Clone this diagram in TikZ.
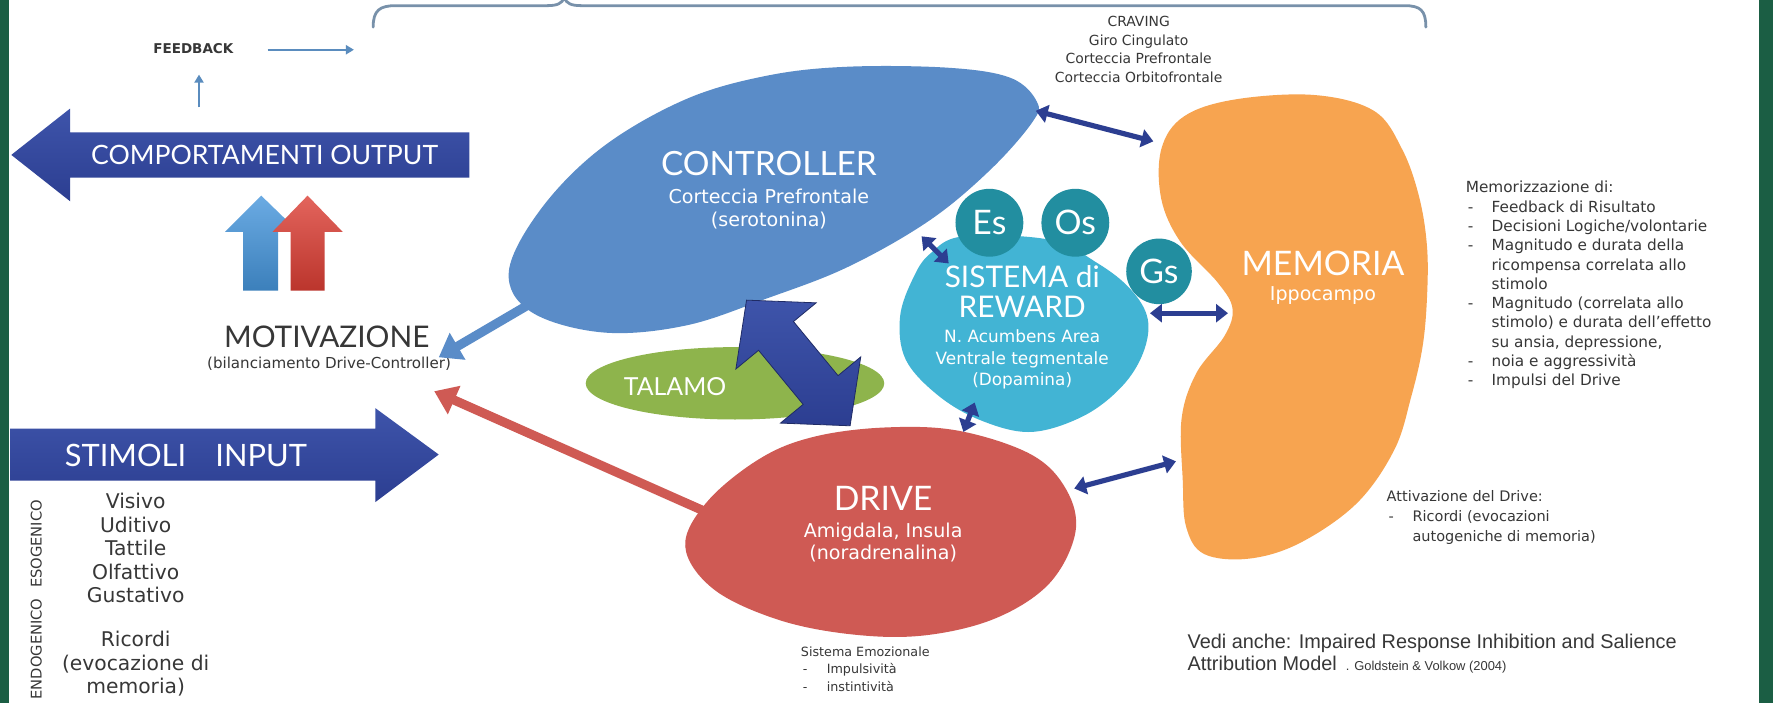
\documentclass[tikz,border=0pt]{standalone}
\usepackage{fontspec}
\setmainfont{Lato}
\newfontfamily\verd{DejaVu Sans}
\newfontfamily\arial{Liberation Sans}
\usetikzlibrary{arrows.meta,calc}
\definecolor{bandgreen}{RGB}{27,94,68}
\definecolor{arrblue}{RGB}{44,62,145}
\definecolor{arrblueL}{RGB}{62,84,170}
\definecolor{ctrlblue}{RGB}{90,140,200}
\definecolor{rewcyan}{RGB}{66,180,212}
\definecolor{rewteal}{RGB}{34,142,160}
\definecolor{talgreen}{RGB}{142,180,76}
\definecolor{drvred}{RGB}{207,90,84}
\definecolor{memorange}{RGB}{247,164,80}
\definecolor{bracegray}{RGB}{120,145,170}
\definecolor{fbblue}{RGB}{90,140,190}
\definecolor{txtgray}{RGB}{55,55,55}
\definecolor{upblue}{RGB}{70,150,220}
\definecolor{upred}{RGB}{220,62,52}
\def\fs#1#2{\fontsize{#1}{#2}\selectfont}
\def\li#1{\makebox[13pt][l]{\hspace{1pt}-}#1}
\def\ind#1{\hspace*{13pt}#1}
\tikzset{
  note/.style={text=txtgray, align=left, inner sep=0pt},
  wlbl/.style={text=white, align=center, inner sep=0pt},
  dbl/.style={draw=arrblue, line width=2.6pt,
    {Triangle[length=6pt,width=9pt]}-{Triangle[length=6pt,width=9pt]}},
  fat/.style={line width=4.6pt, -{Triangle[length=11pt,width=15pt]}},
  thin/.style={draw=fbblue, line width=1.1pt, -{Triangle[length=4pt,width=4.5pt]}},
}

\begin{document}
\begin{tikzpicture}[x=0.2mm,y=-0.2mm]
		%%%%% FRAME %%%%%
		\useasboundingbox (0,0) rectangle (1568,622);
		\fill[white] (0,0) rectangle (1568,622);
		\fill[bandgreen] (0,0) rectangle (8,622);
		\fill[bandgreen] (1556,0) rectangle (1568,622);
		
		% brace on top
		\draw[bracegray, line width=1.4pt, line cap=round]
			(330,24) .. controls (330,9) and (336,5) .. (350,5) -- (484,5)
			.. controls (493,5) and (497,3) .. (499,-2)
			.. controls (501,3) and (505,5) .. (514,5) -- (1242,5)
			.. controls (1256,5) and (1261,9) .. (1261,24);
		
		%%%%% FEEDBACK / OUTPUT %%%%%
		\node[text=txtgray, font=\verd\bfseries\fs{6.8}{8}, inner sep=0pt] (fb) at (171,43) {FEEDBACK};
		\coordinate (fbup) at (176,95);
		\coordinate (fbtop) at (176,66);
		\coordinate (fbend) at (313,44);
		\draw[thin] (fbup) -- (fbtop);
		\draw[thin] ($(fb.east)+(30,1)$) -- (fbend);
		
		\shade[top color=arrblueL, bottom color=arrblue]
			(10,137) -- (62,96) -- (62,117) -- (415,117) -- (415,157) -- (62,157) -- (62,178) -- cycle;
		\node[wlbl, font=\fs{13.4}{15}] (outlbl) at (234,137) {COMPORTAMENTI OUTPUT};
		
		% motivation arrows
		\shade[top color=upblue!80!white, bottom color=upblue!85!black]
			(231,173) -- (264,205) -- (246,205) -- (246,257) -- (215,257) -- (215,205) -- (199,205) -- cycle;
		\shade[top color=upred!80!white, bottom color=upred!85!black]
			(272,173) -- (303,205) -- (287,205) -- (287,257) -- (257,257) -- (257,205) -- (241,205) -- cycle;
		
		\node[text=txtgray, font=\fs{15}{17}, inner sep=0pt] (motiv) at (289,298) {MOTIVAZIONE};
		\node[text=txtgray, font=\verd\fs{7.6}{9}, inner sep=0pt] (motivsub) at (291,322) {(bilanciamento Drive-Controller)};
		
		%%%%% INPUT %%%%%
		\shade[top color=arrblueL, bottom color=arrblue]
			(9,379) -- (332,379) -- (332,361) -- (388,402) -- (332,444) -- (332,425) -- (9,425) -- cycle;
		\node[wlbl, font=\fs{15.5}{17}] (stim) at (111,403) {STIMOLI};
		\node[wlbl, font=\fs{15.5}{17}] (inp) at (231,403) {INPUT};
		
		\node[text=txtgray, font=\verd\fs{10.2}{11.8}, align=center, inner sep=0pt, anchor=north] (eso)
			at (120,436) {Visivo\\Uditivo\\Tattile\\Olfattivo\\Gustativo};
		\node[text=txtgray, font=\verd\fs{10.2}{11.8}, align=center, inner sep=0pt, anchor=north] (endo)
			at (120,558) {Ricordi\\(evocazione di\\memoria)};
		\node[text=txtgray, font=\verd\fs{7.4}{8}, rotate=90, inner sep=0pt] (esolbl) at (32,481) {ESOGENICO};
		\node[text=txtgray, font=\verd\fs{7.4}{8}, rotate=90, inner sep=0pt] (endolbl) at (32,574) {ENDOGENICO};
		
		%%%%% BLOBS %%%%%
		% controller
		\fill[ctrlblue] plot[smooth cycle, tension=0.6] coordinates {
			(450,240) (479,184) (533,130) (606,88) (678,67) (750,59) (840,60) (894,69)
			(917,90) (913,108) (876,150) (822,195) (750,236) (678,264) (606,288)
			(533,294) (470,276)};
		\node[wlbl, font=\fs{16.8}{19}] (ctrl) at (680,145) {CONTROLLER};
		\node[wlbl, font=\verd\fs{9.6}{11.4}] (ctrlsub) at (680,185) {Corteccia Prefrontale\\(serotonina)};
		
		% talamo
		\fill[talgreen] (650,339) ellipse (132 and 32);
		\node[wlbl, font=\fs{12.5}{14}] (tal) at (597,342) {TALAMO};
		
		% reward
		\fill[rewcyan] plot[smooth cycle, tension=0.6] coordinates {
			(852,209) (928,212) (971,233) (1000,256) (1015,282) (1011,312) (992,342)
			(958,368) (912,382) (868,372) (830,350) (801,318) (796,280) (808,245) (823,224)};
		\fill[rewteal] (875,197) circle (30);
		\fill[rewteal] (951,197) circle (30);
		\fill[rewteal] (1025,240) circle (29);
		\node[wlbl, font=\fs{17}{19}] (es) at (875,197) {Es};
		\node[wlbl, font=\fs{17}{19}] (os) at (951,197) {Os};
		\node[wlbl, font=\fs{17}{19}] (gs) at (1025,240) {Gs};
		\node[wlbl, font=\fs{15}{15}] (rew) at (904,258) {SISTEMA di\\REWARD};
		\node[wlbl, font=\verd\fs{8.5}{10.8}] (rewsub) at (904,318) {N. Acumbens Area\\Ventrale tegmentale\\(Dopamina)};
		
		% drive
		\fill[drvred] plot[smooth cycle, tension=0.6] coordinates {
			(673,405) (721,386) (784,378) (848,381) (912,402) (943,433) (951,471)
			(928,516) (880,547) (817,562) (753,561) (688,548) (631,521) (606,483) (626,443)};
		\node[wlbl, font=\fs{17}{19}] (drv) at (781,441) {DRIVE};
		\node[wlbl, font=\verd\fs{9.6}{11.2}] (drvsub) at (781,480) {Amigdala, Insula\\(noradrenalina)};
		
		% memoria
		\fill[memorange] plot[smooth cycle, tension=0.6] coordinates {
			(1162,84) (1215,98) (1240,132) (1255,174) (1262,218) (1262,263) (1258,307)
			(1248,351) (1233,398) (1200,445) (1150,480) (1105,494) (1065,490) (1049,466)
			(1046,425) (1045,370) (1058,330) (1083,297) (1090,273) (1077,250) (1044,214)
			(1027,176) (1027,132) (1047,103) (1092,88)};
		\node[wlbl, font=\fs{17}{19}] (mem) at (1170,233) {MEMORIA};
		\node[wlbl, font=\verd\fs{9.6}{11}] (memsub) at (1170,261) {Ippocampo};
		
		%%%%% CONNECTORS %%%%%
		\coordinate (ctrlS) at (470,268);
		\coordinate (motivE) at (388,316);
		\coordinate (drvW) at (634,457);
		\coordinate (motivSE) at (384,346);
		\draw[fat, draw=ctrlblue] (ctrlS) -- (motivE);
		\draw[fat, draw=drvred] (drvW) -- (motivSE);
		
		\coordinate (ctrlNE) at (916,98);
		\coordinate (memNW) at (1020,125);
		\coordinate (ctrlSE) at (815,209);
		\coordinate (rewNW) at (839,233);
		\coordinate (rewE) at (1017,277);
		\coordinate (memW) at (1086,277);
		\coordinate (rewS) at (862,356);
		\coordinate (drvN) at (852,382);
		\coordinate (drvE) at (950,432);
		\coordinate (memSW) at (1040,408);
		\draw[dbl] (ctrlNE) -- (memNW);
		\draw[dbl] (ctrlSE) -- (rewNW);
		\draw[dbl] (rewE) -- (memW);
		\draw[dbl] (rewS) -- (drvN);
		\draw[dbl] (drvE) -- (memSW);
		
		% big arrow talamo
		\begin{scope}[shift={(706,321)}, rotate=-50.5]
			\shade[top color=arrblueL, bottom color=arrblue, draw=arrblue!70!black, line width=0.4pt]
				(72,0) -- (31,46) -- (31,20) -- (-31,20) -- (-31,46) -- (-72,0)
				-- (-31,-46) -- (-31,-20) -- (31,-20) -- (31,-46) -- cycle;
		\end{scope}
		
		%%%%% NOTES %%%%%
		\node[text=txtgray, font=\verd\fs{7}{9.4}, align=center, inner sep=0pt, anchor=north] (crav)
			at (1007,14) {CRAVING\\Giro Cingulato\\Corteccia Prefrontale\\Corteccia Orbitofrontale};
		
		\node[note, font=\verd\fs{7.7}{9.7}, anchor=north west] (memlist) at (1296,160) {Memorizzazione di:\\
			\li{Feedback di Risultato}\\
			\li{Decisioni Logiche/volontarie}\\
			\li{Magnitudo e durata della}\\
			\ind{ricompensa correlata allo}\\
			\ind{stimolo}\\
			\li{Magnitudo (correlata allo}\\
			\ind{stimolo) e durata dell’effetto}\\
			\ind{su ansia, depressione,}\\
			\li{noia e aggressività}\\
			\li{Impulsi del Drive}};
		
		\node[note, font=\verd\fs{7.3}{10.2}, anchor=north west] (drvlist) at (1226,433) {Attivazione del Drive:\\
			\li{Ricordi (evocazioni}\\
			\ind{autogeniche di memoria)}};
		
		\node[note, font=\verd\fs{6.4}{8.6}, anchor=north west] (emo) at (708,572) {Sistema Emozionale\\
			\li{Impulsività}\\
			\li{instintività}};
		
		\node[note, font=\arial\fs{10}{11.5}, anchor=north west] (vedi) at (1050,560)
			{Vedi anche: Impaired Response Inhibition and Salience\\
			Attribution Model {\fs{6.5}{8} . Goldstein \& Volkow (2004)}};
		
		%%%%% END %%%%%
	\end{tikzpicture}
\end{document}
